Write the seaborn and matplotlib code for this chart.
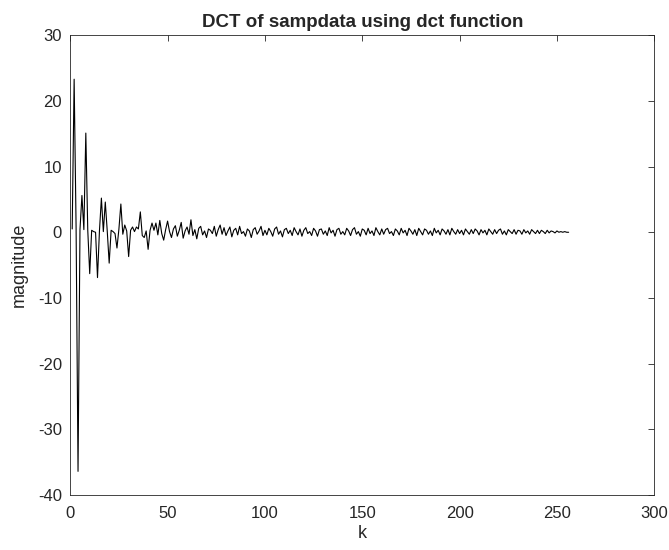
import numpy as np
import pandas as pd
import matplotlib
matplotlib.use('Agg')
import matplotlib.pyplot as plt
import seaborn as sns

# DCT coefficients (k = 1..256)
mag_1_30 = [0.5, 23.3, 0.8, -36.4, 0.4, 5.6, 0.4, 15.1, 0.3, -6.3,
            0.3, 0.1, 0.0, -6.9, 0.2, 5.2, 0.1, 4.6, 0.2, -4.7,
            0.3, 0.1, -0.2, -2.4, 0.5, 4.3, -0.3, 1.1, 0.2, -3.7]
mag_31_60 = [0.3, 0.8, 0.1, 0.8, 0.5, 3.1, -0.5, -0.8, 0.2, -2.6,
             0.3, 1.4, 0.3, 1.4, -0.4, 1.8, -0.2, -1.2, 0.4, 1.7,
             0.1, -0.8, 0.5, 1.0, -0.6, 0.3, 1.5, -0.9, 0.2, 0.8]
mag_61_100 = [-0.3, 1.9, -0.5, 0.4, -1.0, 0.6, 0.9, -0.4, 0.2, -0.8,
              0.5, 0.3, -0.2, 0.9, -0.6, 0.4, 1.1, -0.3, 0.7, -0.5,
              0.2, 0.8, -0.7, 0.3, 0.6, -0.4, 0.9, -0.2, 0.1, -0.6,
              0.5, 0.2, -0.8, 0.4, 0.7, -0.3, 0.2, 0.9, -0.5, 0.3]
mag_101_150 = [-0.4, 0.6, 0.1, -0.6, 0.5, 0.8, -0.3, 0.2, -0.7, 0.4,
               0.6, -0.2, 0.3, -0.5, 0.7, 0.1, -0.4, 0.5, -0.6, 0.3,
               0.7, -0.2, 0.1, -0.5, 0.6, 0.2, -0.6, 0.4, 0.5, -0.3,
               0.2, -0.5, 0.7, -0.1, 0.3, -0.6, 0.4, 0.6, -0.3, 0.1,
               -0.4, 0.6, 0.2, -0.5, 0.4, 0.7, -0.3, 0.1, -0.6, 0.5]
mag_151_200 = [0.3, -0.4, 0.6, -0.2, 0.2, -0.5, 0.7, 0.1, -0.4, 0.5,
               -0.3, 0.4, 0.6, -0.2, 0.1, -0.5, 0.5, 0.2, -0.4, 0.6,
               -0.1, 0.3, -0.5, 0.6, 0.2, -0.3, 0.4, -0.5, 0.6, 0.1,
               -0.4, 0.5, 0.3, -0.3, 0.2, -0.5, 0.6, -0.1, 0.3, -0.4,
               0.5, 0.2, -0.3, 0.4, -0.4, 0.6, 0.1, -0.3, 0.4, -0.2]
mag_201_256 = [0.3, -0.4, 0.5, 0.1, -0.3, 0.4, -0.2, 0.5, 0.2, -0.4,
               0.4, -0.1, 0.3, -0.4, 0.5, 0.1, -0.3, 0.4, -0.2, 0.3,
               0.5, -0.3, 0.2, -0.4, 0.4, 0.1, -0.2, 0.4, -0.3, 0.3,
               0.2, -0.3, 0.4, -0.1, 0.2, -0.3, 0.4, 0.1, -0.2, 0.3,
               -0.2, 0.3, 0.1, -0.2, 0.3, -0.1, 0.2, 0.1, -0.1, 0.2,
               0.0, 0.1, 0.0, 0.1, 0.0, 0.0]

magnitude = mag_1_30 + mag_31_60 + mag_61_100 + mag_101_150 + mag_151_200 + mag_201_256
k = np.arange(1, len(magnitude) + 1)
df = pd.DataFrame({'k': k, 'magnitude': magnitude})

sns.set_style('white')
plt.rcParams['font.family'] = ['Liberation Sans', 'DejaVu Sans']
plt.rcParams['axes.unicode_minus'] = False

fig, ax = plt.subplots(figsize=(6.69, 5.5), dpi=100)
fig.subplots_adjust(left=0.105, right=0.978, top=0.936, bottom=0.1)

sns.lineplot(data=df, x='k', y='magnitude', color='black', linewidth=0.8, ax=ax)

ax.set_xlim(0, 300)
ax.set_ylim(-40, 30)
ax.set_xticks(range(0, 301, 50))
ax.set_yticks(range(-40, 31, 10))
ax.tick_params(direction='in', length=4, width=0.6, top=True, right=True,
               labelsize=12, color='#262626')
ax.tick_params(axis='x', pad=8)
ax.tick_params(axis='y', pad=6)
for s in ax.spines.values():
    s.set_visible(True)
    s.set_color('#262626')
    s.set_linewidth(0.6)

ax.set_title('DCT of sampdata using dct function', fontsize=13.5, fontweight='bold', pad=6)
ax.set_xlabel('k', fontsize=13, labelpad=3)
ax.set_ylabel('magnitude', fontsize=13, labelpad=7)

fig.savefig('out.png', dpi=100)
